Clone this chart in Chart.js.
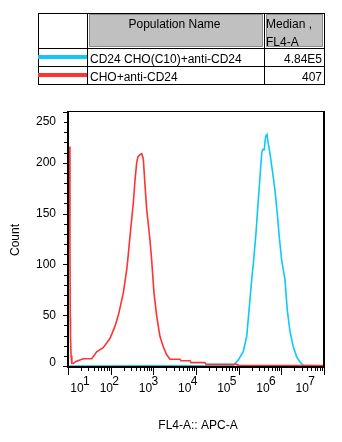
<!DOCTYPE html>
<html>
<head>
<meta charset="utf-8">
<script src="https://cdn.jsdelivr.net/npm/chart.js@4.4.1/dist/chart.umd.min.js"></script>
<style>
  body { margin: 0; background: #fff; font-family: "Liberation Sans", Arial, sans-serif; }
  #wrap { position: relative; width: 342px; height: 442px; }
  canvas { position: absolute; left: 0; top: 0; }
  .box { position: absolute; box-sizing: border-box; border: 1px solid #000; }
  .ln { position: absolute; background: #000; }
  .hd { position: absolute; box-sizing: border-box; background: #c0c0c0; border: 1px solid #8c8c8c; }
  .tx { position: absolute; font-size: 12px; line-height: 14px; color: #000; white-space: nowrap; }
  .sw { position: absolute; height: 4px; }
</style>
</head>
<body>
<div id="wrap">
  <canvas id="histo" width="342" height="442"></canvas>

  <!-- legend table -->
  <div class="box" style="left:38px;top:13px;width:287px;height:72px;"></div>
  <div class="ln" style="left:87px;top:13px;width:1px;height:72px;"></div>
  <div class="ln" style="left:264px;top:13px;width:1px;height:72px;"></div>
  <div class="ln" style="left:38px;top:48px;width:287px;height:1px;"></div>
  <div class="ln" style="left:38px;top:66px;width:287px;height:1px;"></div>
  <div class="hd" style="left:89px;top:14px;width:174px;height:33px;"></div>
  <div class="hd" style="left:266px;top:14px;width:57px;height:33px;"></div>
  <div class="tx" style="left:89px;top:17px;width:171px;text-align:center;">Population Name</div>
  <div class="tx" style="left:266px;top:17px;">Median ,</div>
  <div class="tx" style="left:266px;top:35px;">FL4-A</div>
  <div class="sw" id="sw1" style="left:38px;top:55px;width:49px;"></div>
  <div class="sw" id="sw2" style="left:38px;top:73px;width:49px;"></div>
  <div class="tx" id="name1" style="left:90px;top:52px;"></div>
  <div class="tx" id="med1" style="left:266px;top:52px;width:56px;text-align:right;"></div>
  <div class="tx" id="name2" style="left:90px;top:70px;"></div>
  <div class="tx" id="med2" style="left:266px;top:70px;width:56px;text-align:right;"></div>
</div>

<script>
// populacje (legenda)
const popNames = ['CD24 CHO(C10)+anti-CD24', 'CHO+anti-CD24'];
const popMedians = ['4.84E5', '407'];

// histogram CHO+anti-CD24 (FL4-A, liczba zdarzen)
const redX = [10.9, 11.1, 11.3, 11.45, 11.8, 12.3, 13.3, 15.4, 19, 23, 36, 47, 67, 96, 126, 151, 165, 198,
  238, 251, 295, 339, 372, 407, 437, 487, 534, 582, 638, 699, 835, 915, 1036, 1199, 1432, 1712, 2056, 2457,
  4210, 4450, 7230, 7630, 16200, 17200, 91400, 96400, 1e7];
const redY = [216, 118, 48, 28, 10, 2.5, 2.5, 4.5, 5.9, 7.2, 7.2, 14, 18, 27, 39, 50, 57, 72,
  95, 104, 135, 160, 183, 200, 206, 208, 209, 204, 178, 154, 124, 104, 72, 49, 29, 19, 11, 6.6,
  6.6, 5.2, 5.2, 3.3, 3.3, 1.6, 1.6, 0.5, 0.5];

// histogram CD24 CHO(C10)+anti-CD24
const cyanX = [10, 74800, 98000, 128000, 154000, 175000, 202000, 220000, 255000, 288000, 316000, 346000,
  365000, 398000, 429000, 461000, 494000, 542000, 627000, 710000, 804000, 895000, 1019000, 1218000,
  1379000, 1595000, 1905000, 2290000, 2737000, 3270000, 1e7];
const cyanY = [0, 0.5, 6, 14, 29, 55, 85, 100, 131, 163, 186, 209,
  213, 213, 226, 228, 219, 209, 190, 173, 150, 127, 104, 85,
  55, 34, 19, 9, 4, 0.7, 0];

// osie
const yTicks = [0, 50, 100, 150, 200, 250];
const xDecades = [1, 2, 3, 4, 5, 6, 7];
const xTitle = 'FL4-A:: APC-A';
const yTitle = 'Count';

const CYAN = '#10c8f8';
const RED = '#ff3333';
const FONT = '12px "Liberation Sans", Arial, sans-serif';

document.getElementById('sw1').style.background = CYAN;
document.getElementById('sw2').style.background = RED;
document.getElementById('name1').textContent = popNames[0];
document.getElementById('name2').textContent = popNames[1];
document.getElementById('med1').textContent = popMedians[0];
document.getElementById('med2').textContent = popMedians[1];

// ramka, podzialki i opisy osi jak w eksporcie z cytometru
const axisDecor = {
  id: 'axisDecor',
  afterDatasetsDraw(chart) {
    const { ctx, chartArea: a, scales: { x, y } } = chart;
    ctx.save();
    ctx.strokeStyle = '#000';
    ctx.lineWidth = 1;
    ctx.beginPath(); ctx.moveTo(a.left, a.top - 0.5); ctx.lineTo(a.right, a.top - 0.5); ctx.stroke();
    ctx.lineWidth = 2;
    ctx.beginPath(); ctx.moveTo(a.right, a.top - 1); ctx.lineTo(a.right, a.bottom + 2); ctx.stroke();
    ctx.beginPath(); ctx.moveTo(a.left - 1, a.bottom + 1); ctx.lineTo(a.right + 1, a.bottom + 1); ctx.stroke();
    ctx.beginPath(); ctx.moveTo(a.left, a.top - 1); ctx.lineTo(a.left, a.bottom + 2); ctx.stroke();

    ctx.lineWidth = 1;
    for (let v = 0; v <= 250; v += 10) {
      const py = Math.round(y.getPixelForValue(v)) + 0.5;
      const len = v % 50 === 0 ? 4 : 3;
      ctx.beginPath(); ctx.moveTo(a.left - 1 - len, py); ctx.lineTo(a.left - 1, py); ctx.stroke();
    }
    for (let n = 1; n <= 7; n++) {
      for (let k = 1; k <= 9; k++) {
        const v = k * Math.pow(10, n);
        if (v > 1e7) break;
        const px = Math.round(x.getPixelForValue(v)) + 0.5;
        const len = k === 1 ? 7 : 3;
        ctx.beginPath(); ctx.moveTo(px, a.bottom + 2); ctx.lineTo(px, a.bottom + 2 + len); ctx.stroke();
      }
    }

    ctx.fillStyle = '#000';
    ctx.font = FONT;
    ctx.textAlign = 'right';
    ctx.textBaseline = 'middle';
    for (const v of yTicks) {
      const py = Math.min(Math.max(y.getPixelForValue(v), a.top + 10), a.bottom - 3);
      ctx.fillText(String(v), a.left - 12, py);
    }

    // etykiety dekad leza na lekko scisnietej siatce
    const dec = (a.right - a.left) / 6;
    ctx.textBaseline = 'alphabetic';
    for (const n of xDecades) {
      const px = x.getPixelForValue(Math.pow(10, n));
      const lx = Math.max(a.left + 9, a.left + 38.3 + (px - a.left - dec) * 0.918);
      ctx.textAlign = 'center';
      ctx.fillText('10', lx, a.bottom + 26);
      ctx.textAlign = 'left';
      ctx.fillText(String(n), lx + 6, a.bottom + 19);
    }

    ctx.textAlign = 'center';
    ctx.fillText(xTitle, (a.left + a.right) / 2 + 2, a.bottom + 63);
    ctx.translate(18.5, (a.top + a.bottom) / 2 + 1);
    ctx.rotate(-Math.PI / 2);
    ctx.fillText(yTitle, 0, 0);
    ctx.restore();
  }
};

const chart = new Chart(document.getElementById('histo'), {
  type: 'line',
  data: {
    datasets: [{
      label: popNames[1],
      data: redX.map((v, i) => ({ x: v, y: redY[i] })),
      borderColor: RED,
      borderWidth: 1.6,
      pointRadius: 0,
      tension: 0,
      fill: false
    }, {
      label: popNames[0],
      data: cyanX.map((v, i) => ({ x: v, y: cyanY[i] })),
      borderColor: CYAN,
      borderWidth: 1.6,
      pointRadius: 0,
      tension: 0,
      fill: false
    }]
  },
  options: {
    responsive: false,
    animation: false,
    events: [],
    layout: { padding: { left: 68, right: 18, top: 112, bottom: 76 } },
    plugins: { legend: { display: false }, tooltip: { enabled: false } },
    scales: {
      x: { type: 'logarithmic', min: 10, max: 1e7, display: false },
      y: { type: 'linear', min: 0, max: 250, display: false }
    }
  },
  plugins: [axisDecor]
});
</script>
</body>
</html>
